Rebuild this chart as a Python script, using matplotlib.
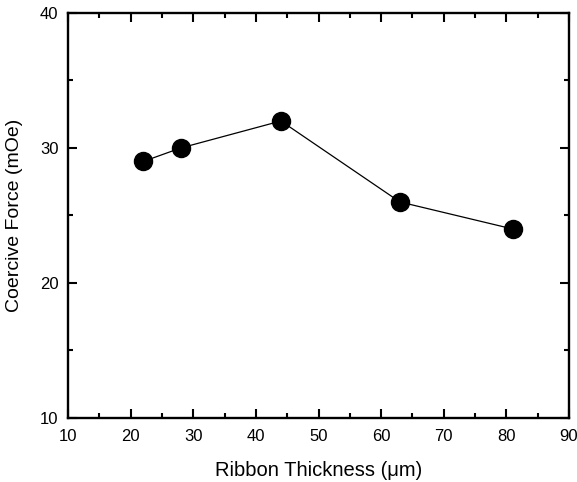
import matplotlib
matplotlib.use("Agg")
import matplotlib.pyplot as plt
from matplotlib.ticker import MultipleLocator

# ribbon thickness (um) vs coercive force (mOe)
thickness = [22, 28, 44, 63, 81]
coercive_force = [29, 30, 32, 26, 24]

plt.rcParams['font.family'] = ['Liberation Sans', 'DejaVu Sans']

fig = plt.figure(figsize=(5.77, 4.82), dpi=100)
ax = fig.add_axes([0.118, 0.133, 0.868, 0.840])

ax.plot(thickness, coercive_force, color='black', linewidth=0.9,
        marker='o', markersize=13, markerfacecolor='black', markeredgecolor='black')

ax.set_xlim(10, 90)
ax.set_ylim(10, 40)
ax.xaxis.set_major_locator(MultipleLocator(10))
ax.xaxis.set_minor_locator(MultipleLocator(5))
ax.yaxis.set_major_locator(MultipleLocator(10))
ax.yaxis.set_minor_locator(MultipleLocator(5))

ax.tick_params(which='both', direction='in', top=True, right=True, width=1.5,
               labelsize=12)
ax.tick_params(axis='x', pad=8)
ax.tick_params(axis='y', pad=7)
ax.tick_params(which='major', length=6.5)
ax.tick_params(which='minor', length=3.5)
for spine in ax.spines.values():
    spine.set_linewidth(1.7)

ax.set_xlabel('Ribbon Thickness (\u03bcm)', fontsize=14.5, labelpad=12)
ax.set_ylabel('Coercive Force (mOe)', fontsize=14, labelpad=12)

fig.savefig('out.png', dpi=100)
